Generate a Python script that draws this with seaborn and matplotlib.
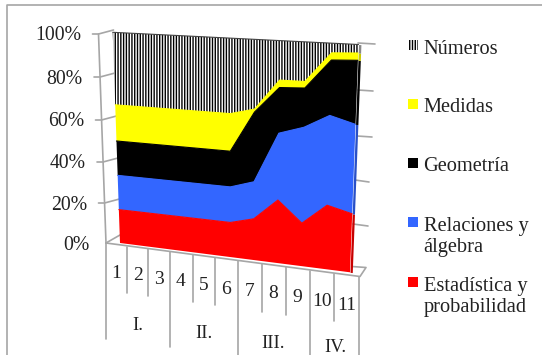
import numpy as np
import pandas as pd
import matplotlib
matplotlib.use("Agg")
import matplotlib.pyplot as plt
from matplotlib.patches import Rectangle
from matplotlib.transforms import Transform
import seaborn as sns

# Datos (porcentaje de cada banda por grado)
grados = [1, 2, 3, 4, 5, 6, 7, 8, 9, 10, 11]
estadistica = [16.7, 16.7, 16.7, 16.7, 16.7, 16.7, 19.7, 29.7, 20.2, 29.7, 27]
relaciones = [16.8, 16.8, 16.8, 16.8, 16.8, 16.8, 17.3, 30.3, 43.3, 39.8, 39.5]
geometria = [16.5, 16.5, 16.5, 16.5, 16.5, 16.5, 31.5, 20, 17, 23.5, 27]
medidas = [17, 17, 17, 17, 17, 17, 1.3, 3.2, 2.8, 3, 3]
numeros = [33, 33, 33, 33, 33, 33, 30.2, 16.8, 16.7, 4, 3.5]

nombres = ["Estadística y\nprobabilidad", "Relaciones y\nálgebra", "Geometría", "Medidas", "Números"]
colores = ["#FF0000", "#3366FF", "#000000", "#FFFF00", "#FFFFFF"]
colores_lado = ["#C80000", "#2850C8", "#000000", "#C8C800", "#888888"]
y_ticks = [0, 20, 40, 60, 80, 100]
bloques = ["I.", "II.", "III.", "IV."]


class Perspectiva(Transform):
    # pasa (grado, %) a pixeles de la imagen, simula el 3D de Excel
    input_dims = 2
    output_dims = 2
    is_separable = False
    has_inverse = False

    def __init__(self, src, dst):
        super().__init__()
        A = []
        b = []
        for (x, y), (u, v) in zip(src, dst):
            A.append([x, y, 1, 0, 0, 0, -u * x, -u * y])
            A.append([0, 0, 0, x, y, 1, -v * x, -v * y])
            b += [u, v]
        self.h = np.append(np.linalg.solve(np.array(A, float), np.array(b, float)), 1).reshape(3, 3)

    def transform_non_affine(self, values):
        pts = np.c_[values, np.ones(len(values))] @ self.h.T
        return pts[:, :2] / pts[:, 2:]


def main():
    sns.set_theme(style="white")
    plt.rcParams["font.family"] = ["Liberation Serif", "DejaVu Serif"]
    plt.rcParams["hatch.linewidth"] = 1.0

    fig = plt.figure(figsize=(5.42, 3.55), dpi=100)
    ax = fig.add_axes([0, 0, 1, 1])
    ax.set_xlim(0, 542)
    ax.set_ylim(355, 0)
    ax.axis("off")

    gris = "#A6A6A6"
    texto = "#222222"
    persp = Perspectiva([(1, 0), (11, 0), (1, 100), (11, 100)],
                        [(120, 243), (350, 272.3), (112.7, 32.3), (358.5, 44.5)])
    trans = persp + ax.transData

    # Marco exterior de la imagen
    ax.plot([7, 7, 542], [355, 5, 5], color=gris, lw=1.2)

    # Pared y piso
    ax.plot([98.5, 106], [34, 243], color=gris, lw=1.2)
    ax.plot([106, 360, 366, 352], [243, 276.5, 267.5, 266.5], color=gris, lw=1.2)
    ax.plot([106, 120], [243, 235], color=gris, lw=1.2)
    ejes_izq = [(243, 106), (203, 104.5), (162, 103), (120, 101.5), (77, 100), (34, 98.5)]
    for y_p, x_p in ejes_izq[1:]:
        ax.plot([x_p - 6, x_p, x_p + 15], [y_p, y_p, y_p - 4], color=gris, lw=1.2)
    for x0, y0, x1, y1 in [(353, 224, 368, 226), (355, 180, 369, 182), (357, 136, 372, 137),
                           (358, 90, 373, 91), (358, 43, 375, 44)]:
        ax.plot([x0, x1], [y0, y1], color=gris, lw=1.2)

    # Areas apiladas
    bandas = [estadistica, relaciones, geometria, medidas, numeros]
    ax.stackplot(grados, bandas, colors=colores, hatch=["", "", "", "", "|" * 6],
                 edgecolor="none", linewidth=0, transform=trans, zorder=3)
    for coll in ax.collections[-1:]:
        coll.set_edgecolor("#000000")
    # Lado derecho del volumen
    ultimos = [[b[-1], b[-1]] for b in bandas]
    ax.stackplot([11, 11.09], ultimos, colors=colores_lado, linewidth=0, transform=trans, zorder=2)

    # Borde superior de cada banda con seaborn
    acum = np.cumsum(np.array(bandas), axis=0)
    df = pd.DataFrame({
        "grado": grados * len(nombres),
        "pct": acum.ravel(),
        "tema": np.repeat(nombres, len(grados)),
    })
    paleta = dict(zip(nombres, ["#FF0000", "#3366FF", "#000000", "#FFFF00", "#444444"]))
    sns.lineplot(data=df, x="grado", y="pct", hue="tema", palette=paleta, estimator=None,
                 lw=0.8, legend=False, ax=ax, transform=trans, zorder=4)
    ax.set_xlim(0, 542)
    ax.set_ylim(355, 0)
    ax.axis("off")

    # Etiquetas eje Y
    for val, x_p, y_p in zip(y_ticks, [89, 87.5, 86, 84, 82.5, 81], [245, 205, 163, 122, 80, 35]):
        ax.text(x_p, y_p, f"{val}%", ha="right", va="center", fontsize=14.2, color=texto)

    # Separadores y etiquetas de categorias
    seps = [(126.7, 247, 293), (148, 249, 296), (170, 252, 347), (193, 255, 302), (215, 258, 305),
            (238, 261, 355), (262, 264, 312), (286, 267, 315), (310, 271, 355), (334, 274, 321),
            (359, 277, 355), (106, 243, 339)]
    for x_p, y0, y1 in seps:
        ax.plot([x_p, x_p], [y0, y1], color=gris, lw=1.2)
    pos_grados = [(116, 274), (138, 276), (159, 279), (181, 282), (204, 285), (226, 289),
                  (250, 292), (273, 294), (297, 298), (322, 302), (347, 305)]
    for g, (x_p, y_p) in zip(grados, pos_grados):
        ax.text(x_p, y_p, str(g), ha="center", va="center", fontsize=14, color=texto)
    for b, (x_p, y_p) in zip(bloques, [(138, 325), (204, 334), (273, 344), (335, 347)]):
        ax.text(x_p, y_p, b, ha="center", va="center", fontsize=13.5, color=texto)

    # Leyenda armada a mano porque las filas no tienen el mismo alto
    filas = [
        ("Números", "#FFFFFF", 40, 49),
        ("Medidas", "#FFFF00", 99, 107),
        ("Geometría", "#000000", 158, 166.5),
        ("Relaciones y\nálgebra", "#3366FF", 217, 237),
        ("Estadística y\nprobabilidad", "#FF0000", 277, 297),
    ]
    for etiqueta, color, y_cuadro, y_txt in filas:
        if etiqueta == "Números":
            ax.add_patch(Rectangle((408, y_cuadro), 10, 10, facecolor=color, edgecolor="#000000",
                                   lw=0, hatch="|" * 6))
        else:
            ax.add_patch(Rectangle((408, y_cuadro), 10, 10, facecolor=color, lw=0))
        ax.text(423.5, y_txt, etiqueta, ha="left", va="center", fontsize=14.7, color=texto,
                linespacing=1.2)

    fig.savefig("out.png", dpi=100)


if __name__ == "__main__":
    main()
